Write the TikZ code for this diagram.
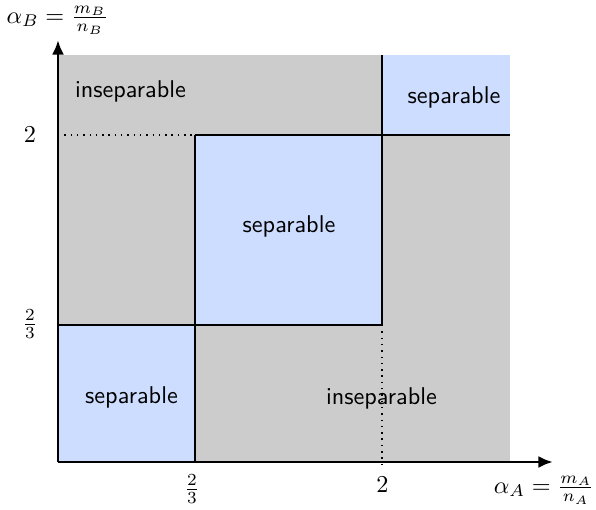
\documentclass[tikz,border=0pt]{standalone}
\usetikzlibrary{arrows.meta}
\definecolor{regiongray}{RGB}{204,204,204}
\definecolor{regionblue}{RGB}{204,221,255}
\begin{document}
\begin{tikzpicture}[x=0.4125pt,y=-0.4125pt,
  lbl/.style={font=\sffamily,inner sep=0pt},
  bound/.style={line width=0.8pt},
  axis/.style={line width=1.2pt,-{Latex[length=6pt,width=5pt]}},
  guide/.style={dotted,line width=0.6pt}]
\useasboundingbox (0,0) rectangle (596,510);
% regions
\fill[regiongray] (58,55) rectangle (510,462);
\fill[regionblue] (58,325) rectangle (195,462);
\fill[regionblue] (195,135) rectangle (382,325);
\fill[regionblue] (382,55) rectangle (510,135);
% boundaries
\draw[bound] (58,325) -- (382,325);
\draw[bound] (195,135) -- (510,135);
\draw[bound] (195,135) -- (195,462);
\draw[bound] (382,55) -- (382,325);
% guides
\draw[guide] (58,135) -- (195,135);
\draw[guide] (382,325) -- (382,466);
% axes
\coordinate (O) at (58,462);
\coordinate (X) at (553,462);
\coordinate (Y) at (58,40);
\draw[axis] (O) -- (X);
\draw[axis] (O) -- (Y);
% labels
\node[lbl] (in1) at (130.5,91) {inseparable};
\node[lbl] (se1) at (454,97) {separable};
\node[lbl] (se2) at (289,226) {separable};
\node[lbl] (se3) at (131.5,397) {separable};
\node[lbl] (in2) at (381.5,398) {inseparable};
\node (ty2) at (30,135) {$2$};
\node (ty23) at (30,324) {$\frac{2}{3}$};
\node (tx23) at (192,489) {$\frac{2}{3}$};
\node (tx2) at (382.5,485) {$2$};
\node (ay) at (57.5,20) {$\alpha_B=\frac{m_B}{n_B}$};
\node (ax) at (544,490) {$\alpha_A=\frac{m_A}{n_A}$};
\end{tikzpicture}
\end{document}
